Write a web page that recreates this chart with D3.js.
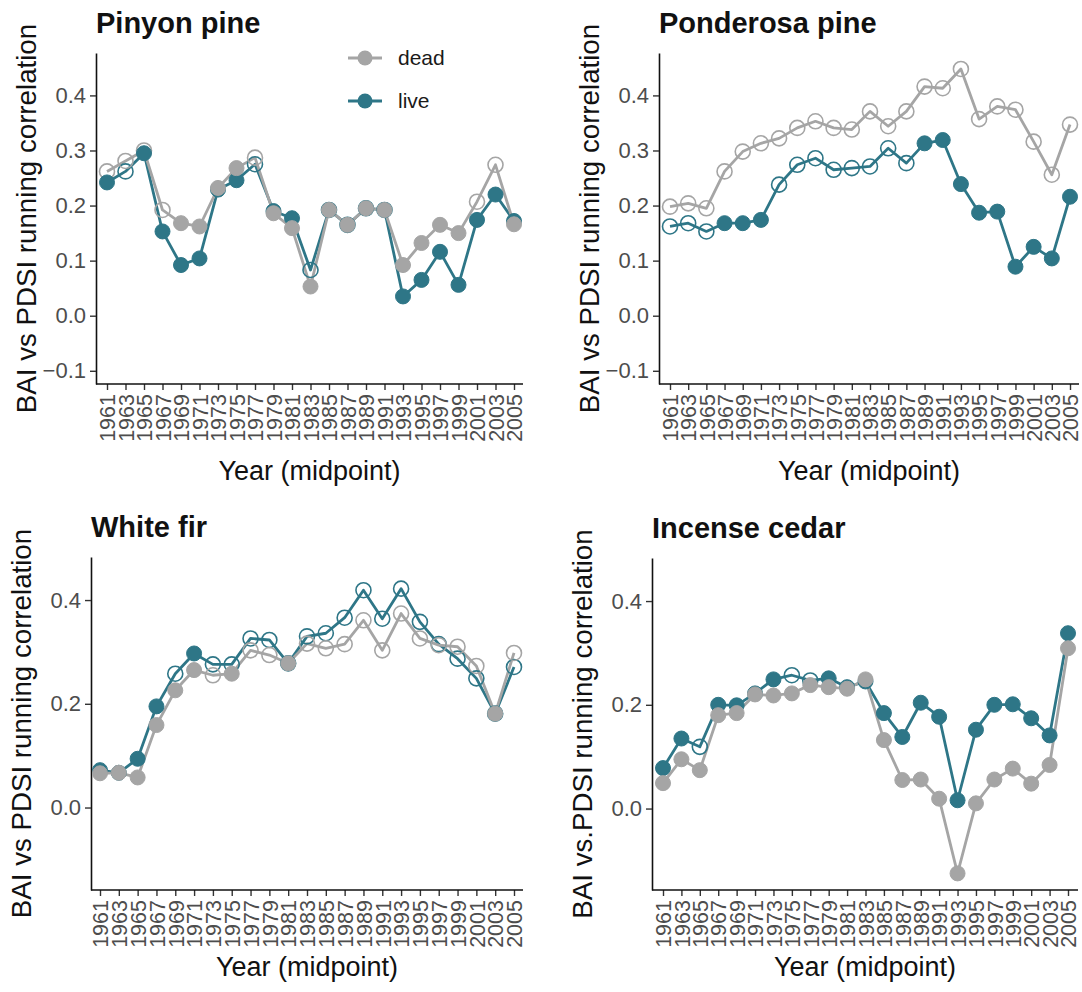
<!DOCTYPE html>
<html>
<head>
<meta charset="utf-8">
<script src="https://cdn.jsdelivr.net/npm/d3@7"></script>
<style>
  html, body { margin: 0; padding: 0; background: #fff; }
  svg text { font-family: "Liberation Sans", Arial, sans-serif; }
</style>
</head>
<body>
<svg id="chart" width="1082" height="992"></svg>
<script>
// Running correlation (BAI vs PDSI) by 2-year midpoint, dead vs live trees.
const years = ["1961","1963","1965","1967","1969","1971","1973","1975","1977","1979","1981",
  "1983","1985","1987","1989","1991","1993","1995","1997","1999","2001","2003","2005"];

const seriesNames = ["dead", "live"];
const yTicksTop = [-0.1, 0.0, 0.1, 0.2, 0.3, 0.4];
const yTicksBottom = [0.0, 0.2, 0.4];

// Pinyon pine
const pinyonDead = [0.262,0.281,0.300,0.192,0.168,0.162,0.232,0.268,0.287,0.186,0.159,
  0.053,0.192,0.165,0.195,0.192,0.092,0.132,0.165,0.150,0.207,0.274,0.166];
const pinyonDeadSig = [0,0,0,0,1,1,1,1,0,1,1,1,1,1,1,1,1,1,1,1,0,0,1];
const pinyonLive = [0.242,0.262,0.295,0.153,0.092,0.104,0.229,0.246,0.275,0.190,0.177,
  0.083,0.192,0.165,0.195,0.192,0.035,0.065,0.116,0.056,0.174,0.220,0.172];
const pinyonLiveSig = [1,0,1,1,1,1,1,1,0,1,1,0,0,0,0,0,1,1,1,1,1,1,1];

// Ponderosa pine
const ponderosaDead = [0.198,0.204,0.195,0.262,0.298,0.313,0.322,0.341,0.353,0.341,0.338,
  0.371,0.344,0.371,0.416,0.413,0.448,0.357,0.380,0.374,0.316,0.256,0.347];
const ponderosaDeadSig = [0,0,0,0,0,0,0,0,0,0,0,0,0,0,0,0,0,0,0,0,0,0,0];
const ponderosaLive = [0.162,0.168,0.153,0.168,0.168,0.174,0.238,0.274,0.286,0.265,0.268,
  0.271,0.304,0.277,0.313,0.319,0.239,0.187,0.189,0.089,0.125,0.104,0.216];
const ponderosaLiveSig = [0,0,0,1,1,1,0,0,0,0,0,0,0,0,1,1,1,1,1,1,1,1,1];

// White fir
const whiteFirDead = [0.066,0.067,0.058,0.159,0.226,0.265,0.255,0.258,0.303,0.294,0.278,
  0.316,0.307,0.315,0.361,0.303,0.374,0.326,0.313,0.310,0.273,0.181,0.298];
const whiteFirDeadSig = [1,1,1,1,1,1,0,1,0,0,1,0,0,0,0,0,0,0,0,0,0,1,0];
const whiteFirLive = [0.072,0.067,0.094,0.195,0.258,0.297,0.276,0.276,0.326,0.323,0.278,
  0.330,0.336,0.366,0.419,0.364,0.422,0.358,0.315,0.287,0.249,0.181,0.271];
const whiteFirLiveSig = [1,1,1,1,0,1,0,0,0,0,0,0,0,0,0,0,0,0,0,0,0,0,0];

// Incense cedar
const cedarDead = [0.049,0.095,0.074,0.180,0.184,0.220,0.218,0.222,0.238,0.234,0.231,
  0.249,0.132,0.055,0.056,0.019,-0.125,0.010,0.056,0.077,0.048,0.084,0.309];
const cedarDeadSig = [1,1,1,1,1,1,1,1,1,1,1,1,1,1,1,1,1,1,1,1,1,1,1];
const cedarLive = [0.078,0.135,0.119,0.200,0.199,0.222,0.249,0.257,0.247,0.251,0.234,
  0.245,0.184,0.138,0.204,0.177,0.016,0.152,0.200,0.201,0.174,0.141,0.338];
const cedarLiveSig = [1,1,0,1,1,1,1,0,0,1,1,1,1,1,1,1,1,1,1,1,1,1,1];

const colors = { dead: "#a5a5a5", live: "#2e7687" };

const panels = [
  { title: "Pinyon pine", ylab: "BAI vs PDSI running correlation",
    dead: pinyonDead, deadSig: pinyonDeadSig, live: pinyonLive, liveSig: pinyonLiveSig,
    yDomain: [-0.124, 0.477], yTicks: yTicksTop, legend: true, xlabGap: 96,
    frame: { x0: 96, x1: 523, y0: 53, y1: 384, t0: 107, t1: 514 } },
  { title: "Ponderosa pine", ylab: "BAI vs PDSI running correlation",
    dead: ponderosaDead, deadSig: ponderosaDeadSig, live: ponderosaLive, liveSig: ponderosaLiveSig,
    yDomain: [-0.124, 0.477], yTicks: yTicksTop, xlabGap: 96,
    frame: { x0: 659, x1: 1079, y0: 53, y1: 384, t0: 670, t1: 1070 } },
  { title: "White fir", ylab: "BAI vs PDSI running correlation",
    dead: whiteFirDead, deadSig: whiteFirDeadSig, live: whiteFirLive, liveSig: whiteFirLiveSig,
    yDomain: [-0.159, 0.483], yTicks: yTicksBottom, xlabGap: 86,
    frame: { x0: 91, x1: 523, y0: 557, y1: 890, t0: 100, t1: 514 } },
  { title: "Incense cedar", ylab: "BAI vs.PDSI running correlation",
    dead: cedarDead, deadSig: cedarDeadSig, live: cedarLive, liveSig: cedarLiveSig,
    yDomain: [-0.157, 0.483], yTicks: yTicksBottom, xlabGap: 86,
    frame: { x0: 652, x1: 1078, y0: 558, y1: 890, t0: 663, t1: 1068 } }
];

const svg = d3.select("#chart");
svg.append("rect").attr("width", 1082).attr("height", 992).attr("fill", "#fff");

const R = 7.5;

panels.forEach(p => {
  const f = p.frame;
  const g = svg.append("g");
  const x = d3.scalePoint().domain(years).range([f.t0, f.t1]);
  const y = d3.scaleLinear().domain(p.yDomain).range([f.y1, f.y0]);

  // y axis
  const ya = g.append("g").attr("transform", `translate(${f.x0},0)`)
    .call(d3.axisLeft(y).tickValues(p.yTicks).tickFormat(d3.format(".1f"))
      .tickSize(6).tickSizeOuter(0).tickPadding(4));
  ya.select(".domain").attr("stroke", "#111").attr("stroke-width", 1.6);
  ya.selectAll(".tick line").attr("stroke", "#333").attr("stroke-width", 1.4);
  ya.selectAll(".tick text").attr("fill", "#4d4d4d").attr("font-size", 22)
    .attr("font-family", "Liberation Sans, Arial, sans-serif");

  // x axis
  const xa = g.append("g").attr("transform", `translate(0,${f.y1})`)
    .call(d3.axisBottom(x).tickSize(6).tickSizeOuter(0).tickPadding(4));
  xa.select(".domain").remove();
  xa.selectAll(".tick line").attr("stroke", "#333").attr("stroke-width", 1.4);
  xa.selectAll(".tick text")
    .attr("fill", "#4d4d4d").attr("font-size", 21.5)
    .attr("font-family", "Liberation Sans, Arial, sans-serif")
    .attr("transform", "rotate(-90)")
    .attr("text-anchor", "end")
    .attr("x", -10).attr("y", 0).attr("dy", "0.36em");
  g.append("line").attr("x1", f.x0).attr("x2", f.x1).attr("y1", f.y1).attr("y2", f.y1)
    .attr("stroke", "#111").attr("stroke-width", 1.6);

  // titles
  g.append("text").attr("x", f.x0).attr("y", f.y0 - 20)
    .attr("font-size", 29).attr("font-weight", "bold").attr("fill", "#111").text(p.title);
  g.append("text").attr("x", (f.x0 + f.x1) / 2).attr("y", f.y1 + p.xlabGap)
    .attr("text-anchor", "middle").attr("font-size", 27).attr("fill", "#111")
    .text("Year (midpoint)");
  g.append("text")
    .attr("transform", `translate(${f.x0 - 60},${(f.y0 + f.y1) / 2}) rotate(-90)`)
    .attr("text-anchor", "middle").attr("font-size", 27.7).attr("fill", "#111")
    .text(p.ylab);

  const rows = {
    dead: years.map((yr, i) => ({ yr, v: p.dead[i], sig: p.deadSig[i] })),
    live: years.map((yr, i) => ({ yr, v: p.live[i], sig: p.liveSig[i] }))
  };
  const line = d3.line().x(d => x(d.yr)).y(d => y(d.v));

  // lines: live beneath dead
  ["live", "dead"].forEach(s => {
    g.append("path").datum(rows[s]).attr("d", line).attr("fill", "none")
      .attr("stroke", colors[s]).attr("stroke-width", 2.8).attr("stroke-linejoin", "round");
  });
  // open markers (non-significant), then filled markers (significant)
  ["live", "dead"].forEach(s => {
    g.append("g").selectAll("circle").data(rows[s].filter(d => !d.sig)).join("circle")
      .attr("cx", d => x(d.yr)).attr("cy", d => y(d.v)).attr("r", R)
      .attr("fill", "none").attr("stroke", colors[s]).attr("stroke-width", 1.6);
  });
  ["live", "dead"].forEach(s => {
    g.append("g").selectAll("circle").data(rows[s].filter(d => d.sig)).join("circle")
      .attr("cx", d => x(d.yr)).attr("cy", d => y(d.v)).attr("r", R)
      .attr("fill", colors[s]).attr("stroke", colors[s]).attr("stroke-width", 1);
  });

  if (p.legend) {
    const lg = g.append("g").attr("transform", "translate(348,58)");
    seriesNames.forEach((s, i) => {
      const row = lg.append("g").attr("transform", `translate(0,${i * 43})`);
      row.append("line").attr("x1", 0).attr("x2", 34).attr("stroke", colors[s]).attr("stroke-width", 2.8);
      row.append("circle").attr("cx", 17).attr("r", R).attr("fill", colors[s]);
      row.append("text").attr("x", 50).attr("dy", "0.35em").attr("font-size", 21)
        .attr("fill", "#1a1a1a").text(s);
    });
  }
});
</script>
</body>
</html>
